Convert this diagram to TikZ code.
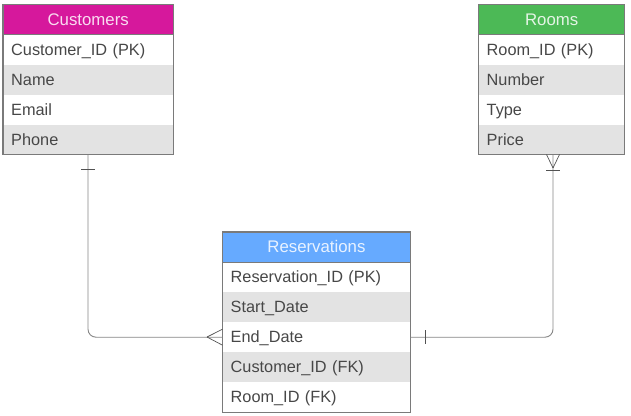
\documentclass[tikz,border=0pt]{standalone}
\usepackage{fontspec}
\setmainfont{Liberation Sans}
\begin{document}
\begin{tikzpicture}[x=1pt,y=-1pt,
  every node/.style={font=\fontsize{16.3}{19}\selectfont},
  hdr/.style={rectangle, anchor=north west, minimum height=30pt, inner sep=0pt, text=white, text opacity=0.85, text height=13pt, text depth=2pt, font=\fontsize{16.8}{19}\selectfont},
  row/.style={rectangle, anchor=north west, minimum height=30pt, inner xsep=8pt, inner ysep=0pt, align=left, text=black!72, text height=13pt, text depth=2pt},
  alt/.style={row, fill=black!11},
  frame/.style={draw=black!52, line width=1.1pt},
  conn/.style={draw=black!48, line width=0.9pt, rounded corners=8pt},
  tickmark/.style={draw=black!68, line width=0.7pt}
]
\useasboundingbox (0,0) rectangle (631,415);

% Customers
\node[hdr, fill={rgb,255:red,214;green,24;blue,156}, minimum width=170pt] (ch) at (3,4.5) {Customers};
\node[row, text width=154pt] (c1) at (3,34.5) {Customer\_ID (PK)};
\node[alt, text width=154pt] (c2) at (3,64.5) {Name};
\node[row, text width=154pt] (c3) at (3,94.5) {Email};
\node[alt, text width=154pt] (c4) at (3,124.5) {Phone};
\draw[frame] (ch.north west) rectangle (c4.south east);
\draw[frame] (ch.south west) -- (ch.south east);

% Rooms
\node[hdr, fill={rgb,255:red,76;green,185;blue,86}, minimum width=146pt] (rh) at (478.5,4.5) {Rooms};
\node[row, text width=130pt] (r1) at (478.5,34.5) {Room\_ID (PK)};
\node[alt, text width=130pt] (r2) at (478.5,64.5) {Number};
\node[row, text width=130pt] (r3) at (478.5,94.5) {Type};
\node[alt, text width=130pt] (r4) at (478.5,124.5) {Price};
\draw[frame] (rh.north west) rectangle (r4.south east);
\draw[frame] (rh.south west) -- (rh.south east);

% Reservations
\node[hdr, fill={rgb,255:red,102;green,170;blue,255}, minimum width=187.5pt] (sh) at (222.5,232) {Reservations};
\node[row, text width=171.5pt] (s1) at (222.5,262) {Reservation\_ID (PK)};
\node[alt, text width=171.5pt] (s2) at (222.5,292) {Start\_Date};
\node[row, text width=171.5pt] (s3) at (222.5,322) {End\_Date};
\node[alt, text width=171.5pt] (s4) at (222.5,352) {Customer\_ID (FK)};
\node[row, text width=171.5pt] (s5) at (222.5,382) {Room\_ID (FK)};
\draw[frame] (sh.north west) rectangle (s5.south east);
\draw[frame] (sh.south west) -- (sh.south east);

% Connector Customers -> Reservations
\coordinate (cA) at (88,154.5);
\coordinate (cB) at (s3.west);
\draw[conn] (cA) |- (cB);
\draw[tickmark] (81,169) -- (95,169);
\draw[tickmark] (207,337) -- ([yshift=-8pt]cB);
\draw[tickmark] (207,337) -- ([yshift=8pt]cB);

% Connector Reservations -> Rooms
\coordinate (rA) at (s3.east);
\coordinate (rB) at (553,154.5);
\draw[conn] (rA) -| (rB);
\draw[tickmark] (425,330) -- (425,344);
\draw[tickmark] (553,168) -- (546.5,154.5);
\draw[tickmark] (553,168) -- (559.5,154.5);
\draw[tickmark] (546,170) -- (560,170);
\end{tikzpicture}
\end{document}
